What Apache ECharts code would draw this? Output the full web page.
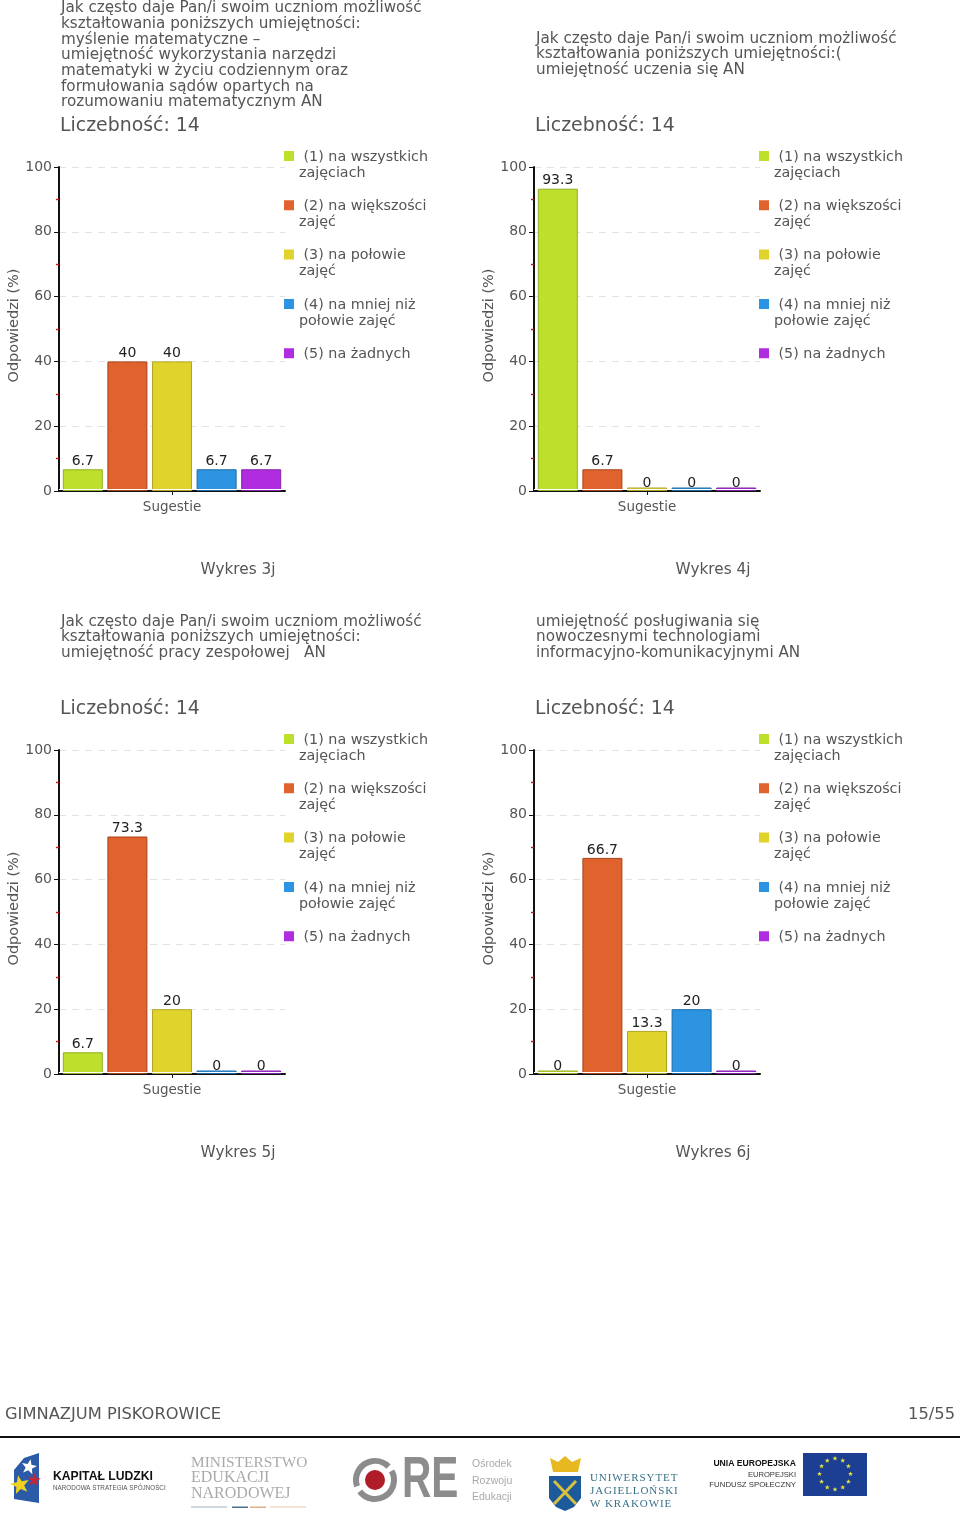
<!DOCTYPE html>
<html><head><meta charset="utf-8">
<style>html,body{margin:0;padding:0;background:#fff}#c{width:960px;height:1525px}</style>
<script src="https://cdn.jsdelivr.net/npm/echarts@6/dist/echarts.min.js"></script>
</head><body><div id="c"></div>
<script>
const categories = ['(1) na wszystkich zajęciach','(2) na większości zajęć','(3) na połowie zajęć','(4) na mniej niż połowie zajęć','(5) na żadnych'];
const legendLines = [' (1) na wszystkich\nzajęciach',' (2) na większości\nzajęć',' (3) na połowie\nzajęć',' (4) na mniej niż\npołowie zajęć',' (5) na żadnych\n '];
const colors  = ['#bce02c','#e0622c','#e0d42c','#2c94e0','#b02ce0'];
const borders = ['#93ae22','#a8431c','#b0a522','#1c6ba8','#8020a8'];
const values3j = [6.7,40,40,6.7,6.7];
const values4j = [93.3,6.7,0,0,0];
const values5j = [6.7,73.3,20,0,0];
const values6j = [0,66.7,13.3,20,0];
const allValues = [values3j,values4j,values5j,values6j];
const questions = [
 ['Jak często daje Pan/i swoim uczniom możliwość','kształtowania poniższych umiejętności:','myślenie matematyczne –','umiejętność wykorzystania narzędzi','matematyki w życiu codziennym oraz','formułowania sądów opartych na','rozumowaniu matematycznym AN'],
 ['Jak często daje Pan/i swoim uczniom możliwość','kształtowania poniższych umiejętności:(','umiejętność uczenia się AN'],
 ['Jak często daje Pan/i swoim uczniom możliwość','kształtowania poniższych umiejętności:','umiejętność pracy zespołowej   AN'],
 ['umiejętność posługiwania się','nowoczesnymi technologiami','informacyjno-komunikacyjnymi AN']
];
const captions = ['Wykres 3j','Wykres 4j','Wykres 5j','Wykres 6j'];
const countLabel = 'Liczebność: 14';
const yTicks = [0,20,40,60,80,100];
const xName = 'Sugestie', yName = 'Odpowiedzi (%)';
const footerLeft = 'GIMNAZJUM PISKOROWICE', footerRight = '15/55';

const FONT = '"DejaVu Sans", Verdana, sans-serif';
const TXT = '#555';
const originsX = [59,534,59,534];
const originsY = [167,167,750,750];
const titleTops = [0.5,31,614,614];

const grid=[],xAxis=[],yAxis=[],series=[],legend=[],title=[];
allValues.forEach((vals,i)=>{
  const L=originsX[i],T=originsY[i];
  grid.push({left:L,top:T,width:226,height:324,containLabel:false});
  xAxis.push({type:'category',gridIndex:i,data:[xName],name:xName,nameLocation:'middle',nameGap:9,
    nameTextStyle:{color:TXT,fontFamily:FONT,fontSize:13.5},
    axisLine:{lineStyle:{color:'#111',width:2}},axisTick:{show:true,alignWithLabel:true,length:4,lineStyle:{color:'#111'}},
    axisLabel:{show:false},splitLine:{show:false}});
  yAxis.push({type:'value',gridIndex:i,min:yTicks[0],max:yTicks[yTicks.length-1],interval:20,
    name:yName,nameLocation:'middle',nameGap:36,nameRotate:90,nameTextStyle:{color:TXT,fontFamily:FONT,fontSize:14.5,padding:[0,0,0,7]},
    axisLine:{show:true,lineStyle:{color:'#111',width:2}},
    axisTick:{show:true,length:5,lineStyle:{color:'#111'}},
    minorTick:{show:true,splitNumber:2,length:3,lineStyle:{color:'#d01010',width:1.4}},
    axisLabel:{color:TXT,fontFamily:FONT,fontSize:14,margin:7,padding:[4,0,0,0]},
    splitLine:{show:true,lineStyle:{color:'#e2e2e2',type:[7,6],width:1}}});
  categories.forEach((c,k)=>{
    const s={type:'bar',name:c,xAxisIndex:i,yAxisIndex:i,
      data:[{value:vals[k],label:{distance:vals[k]===0?-3:1}}],
      barWidth:40,barGap:'11.5%',barMinHeight:3.5,
      itemStyle:{color:colors[k],borderColor:borders[k],borderWidth:1},
      label:{show:true,position:'top',color:'#222',fontFamily:FONT,fontSize:14,formatter:p=>String(p.value)},
      silent:true};
    if(k===0) s.markLine={silent:true,symbol:'none',label:{show:false},animation:false,z:3,
      lineStyle:{color:'#fff',width:1,type:'solid'},data:[{yAxis:0.45}]};
    series.push(s);
  });
  legend.push({orient:'vertical',left:L+225,top:T-18,padding:0,itemGap:17.3,itemWidth:10,itemHeight:32,
    data:categories.map((c,k)=>({name:c,
      icon:'path://M0 2L10 2L10 12L0 12ZM0 0L0 0ZM0 32L0 32Z',
      itemStyle:{color:colors[k],borderWidth:0}})),
    formatter:n=>legendLines[categories.indexOf(n)],selectedMode:false,
    textStyle:{color:TXT,fontFamily:FONT,fontSize:14.3,lineHeight:16}});
  title.push({text:questions[i].join('\n'),left:L+2,top:titleTops[i],padding:0,
    textStyle:{color:TXT,fontFamily:FONT,fontSize:15.2,fontWeight:'normal',lineHeight:15.7}});
  title.push({text:countLabel,left:L+1,top:T-51,padding:0,
    textStyle:{color:TXT,fontFamily:FONT,fontSize:18.9,fontWeight:'normal',lineHeight:20}});
  title.push({text:captions[i],left:L+179,top:T+394.5,textAlign:'center',padding:0,
    textStyle:{color:TXT,fontFamily:FONT,fontSize:15.3,fontWeight:'normal',lineHeight:18}});
});
title.push({text:footerLeft,left:5,top:1406,padding:0,textStyle:{color:TXT,fontFamily:FONT,fontSize:16.3,fontWeight:'normal',lineHeight:18}});
title.push({text:footerRight,right:5,top:1406,padding:0,textStyle:{color:TXT,fontFamily:FONT,fontSize:16.3,fontWeight:'normal',lineHeight:18}});

const t=(x,y,text,size,fill,extra={})=>({type:'text',silent:true,style:Object.assign({x,y,text,fontSize:size,fill,fontFamily:'"Liberation Sans",sans-serif',verticalAlign:'middle'},extra)});
const poly=(points,fill)=>({type:'polygon',silent:true,shape:{points},style:{fill}});
const star=(cx,cy,r,fill,rot=0)=>{const p=[];for(let n=0;n<10;n++){const a=rot-Math.PI/2+n*Math.PI/5,q=n%2?r*0.42:r;p.push([cx+q*Math.cos(a),cy+q*Math.sin(a)]);}return poly(p,fill);};
const serif='"Liberation Serif",serif';
const hair=s=>s.split('').join('\u200a');
const euStars=[];for(let n=0;n<12;n++){const a=n*Math.PI/6;euStars.push(star(835+15.5*Math.cos(a),1474+15.5*Math.sin(a),2.6,'#e0e040'));}
const graphic=[
 {type:'rect',silent:true,shape:{x:0,y:1436,width:960,height:2},style:{fill:'#111'}},
 // Kapitał Ludzki
 poly([[24,1458],[39,1453],[39,1503],[14,1499],[14,1470]],'#2a5aa8'),
 star(29,1467,8,'#fff',0.2), star(34,1480,7,'#c02838',0.1), star(20,1485,10,'#f0d020',-0.2),
 t(53,1477,'KAPITAŁ LUDZKI',12.2,'#111',{fontWeight:'bold'}),
 t(53,1488,'NARODOWA STRATEGIA SPÓJNOŚCI',6.3,'#555'),
 // MEN
 t(191,1463,'MINISTERSTWO',15.4,'#aaa',{fontFamily:serif}),
 t(191,1478,'EDUKACJI',16,'#aaa',{fontFamily:serif}),
 t(191,1494,'NARODOWEJ',16,'#aaa',{fontFamily:serif}),
 {type:'rect',silent:true,shape:{x:191,y:1506.5,width:36,height:1},style:{fill:'#9fb2c0'}},
 {type:'rect',silent:true,shape:{x:232,y:1506.5,width:16,height:1.5},style:{fill:'#50708a'}},
 {type:'rect',silent:true,shape:{x:250,y:1506.5,width:16,height:1.5},style:{fill:'#e0b080'}},
 {type:'rect',silent:true,shape:{x:270,y:1506.5,width:36,height:1},style:{fill:'#ecc9a8'}},
 // ORE
 {type:'arc',silent:true,shape:{cx:375,cy:1480,r:19,startAngle:-0.5,endAngle:2.5},style:{fill:'none',stroke:'#8c8c8c',lineWidth:6}},
 {type:'arc',silent:true,shape:{cx:375,cy:1480,r:19,startAngle:2.8,endAngle:5.5},style:{fill:'none',stroke:'#8c8c8c',lineWidth:6}},
 {type:'circle',silent:true,shape:{cx:375,cy:1480,r:10},style:{fill:'#b01c28'}},
 {type:'text',silent:true,x:402,y:1481,scaleX:0.7,style:{x:0,y:0,text:'RE',fontSize:58,fill:'#8c8c8c',fontWeight:'bold',fontFamily:'"Liberation Sans",sans-serif',verticalAlign:'middle'}},
 t(472,1464,'Ośrodek',10.5,'#aaa'),t(472,1481,'Rozwoju',10.5,'#aaa'),t(472,1497,'Edukacji',10.5,'#aaa'),
 // UJ
 poly([[550,1458],[558,1462],[565,1456],[572,1462],[581,1458],[578,1472],[553,1472]],'#e8b820'),
 poly([[549,1476],[581,1476],[581,1498],[574,1507],[565,1511],[556,1507],[549,1498]],'#1c5a9c'),
 {type:'line',silent:true,shape:{x1:554,y1:1481,x2:576,y2:1504},style:{stroke:'#d8c040',lineWidth:3}},
 {type:'line',silent:true,shape:{x1:576,y1:1481,x2:554,y2:1504},style:{stroke:'#d8c040',lineWidth:3}},
 t(590,1478,hair('UNIWERSYTET'),11,'#3a7088',{fontFamily:serif}),
 t(590,1491,hair('JAGIELLOŃSKI'),11,'#3a7088',{fontFamily:serif}),
 t(590,1504,hair('W KRAKOWIE'),11,'#3a7088',{fontFamily:serif}),
 // EU
 t(796,1464,'UNIA EUROPEJSKA',8.6,'#111',{align:'right',fontWeight:'bold'}),
 t(796,1475,'EUROPEJSKI',7.6,'#333',{align:'right'}),
 t(796,1485,'FUNDUSZ SPOŁECZNY',7.8,'#333',{align:'right'}),
 {type:'rect',silent:true,shape:{x:803,y:1453,width:64,height:43},style:{fill:'#1c3f94'}},
 ...euStars
];
const chart=echarts.init(document.getElementById('c'),null,{renderer:'canvas'});
chart.setOption({animation:false,backgroundColor:'#fff',title,legend,grid,xAxis,yAxis,series,graphic,tooltip:{show:false}});
</script></body></html>
